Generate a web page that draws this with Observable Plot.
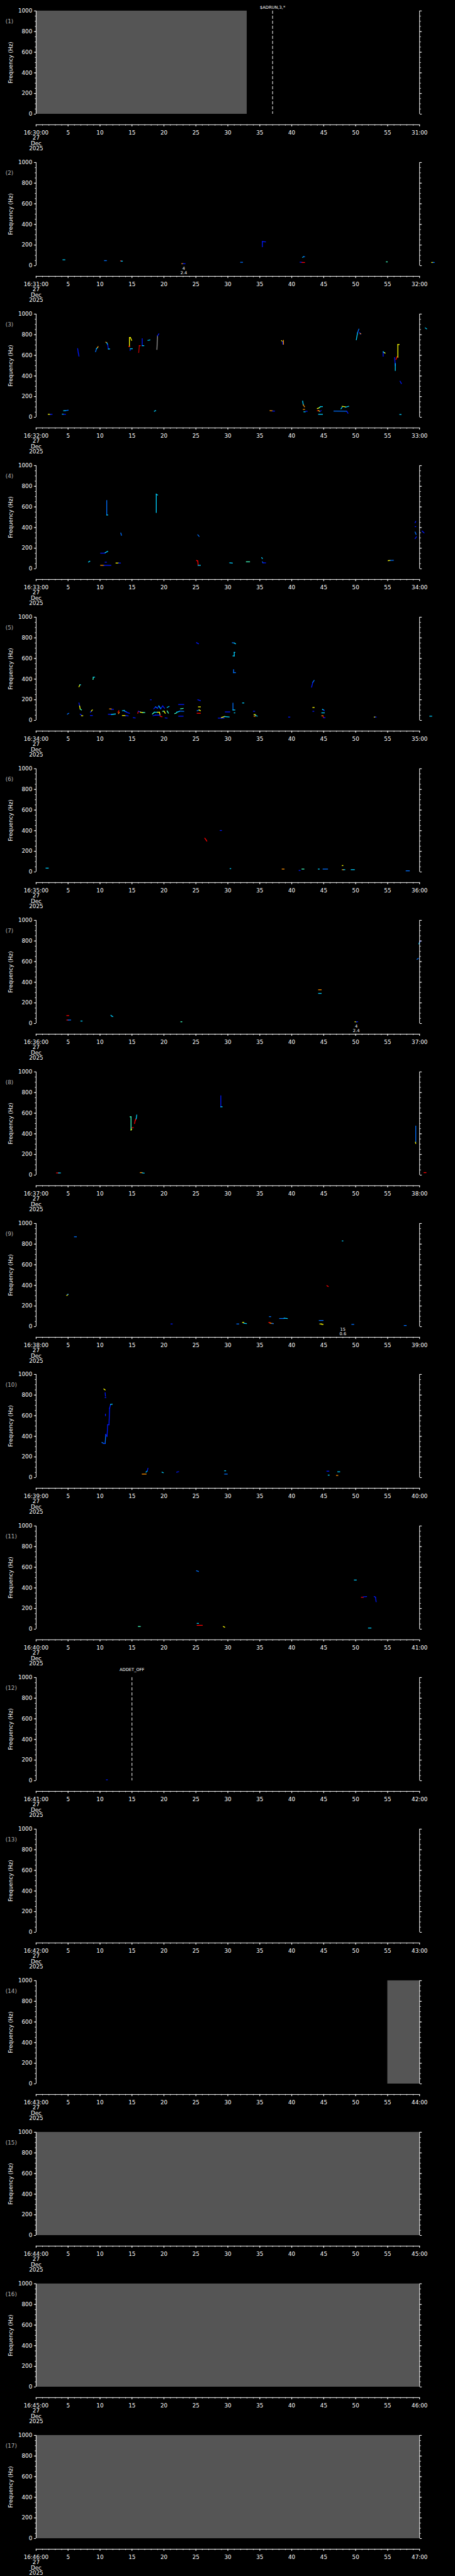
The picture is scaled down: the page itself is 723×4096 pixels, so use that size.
<!DOCTYPE html>
<html><head><meta charset="utf-8">
<script src="https://cdn.jsdelivr.net/npm/d3@7"></script>
<script src="https://cdn.jsdelivr.net/npm/@observablehq/plot@0.6"></script>
<style>
html,body{margin:0;padding:0;background:#000;}
#charts{width:722px;}
#charts > div{line-height:0;}
</style></head><body><div id="charts"></div><script>
// ---------------- data ----------------
const startLabels = ["16:30:00","16:31:00","16:32:00","16:33:00","16:34:00","16:35:00","16:36:00","16:37:00","16:38:00","16:39:00","16:40:00","16:41:00","16:42:00","16:43:00","16:44:00","16:45:00","16:46:00"];
const endLabels = ["31:00","32:00","33:00","34:00","35:00","36:00","37:00","38:00","39:00","40:00","41:00","42:00","43:00","44:00","45:00","46:00","47:00"];
const dateLines = ["27","Dec","2025"];
const secMajor = [0,5,10,15,20,25,30,35,40,45,50,55,60];
const freqMajor = [0,200,400,600,800,1000];
// no-data (grey) spans: [panel, t0, t1]
const gaps = [[1,0,33],[14,55,60],[15,0,60],[16,0,60],[17,0,60]];
// command markers: [panel, t, text]
const commands = [[1,37,"$ADRUN,3,*"],[12,15,"ADDET_OFF"]];
// numeric notes under the spectrum: [panel, t, line1, line2]
const notes = [[2,23.1,"4","2.4"],[7,50.1,"4","2.4"],[9,48,"15","0.6"]];
// traces: [t0, f0, t1, f1, level]
const trace1 = [];
const trace2 = [
[4.2,57,4.5,57,"c"],[10.7,49,11.0,49,"l"],[13.2,47,13.3,47,"r"],[13.3,44,13.5,44,"c"],
[22.8,19,23.0,19,"o"],[23.0,19,23.3,19,"b"],[32.0,33,32.3,33,"l"],
[35.4,183,35.4,233,"b"],[35.4,233,35.9,231,"b"],
[41.7,81,41.85,87,"c"],[41.85,87,42.0,87,"l"],[41.3,34,41.6,33,"b"],[41.6,31,42.0,31,"r"],
[54.8,37,54.95,37,"g"],[61.9,31,62.1,31,"y"],[62.1,31,62.3,31,"l"]];
const trace3 = [
[1.9,29,2.2,29,"y"],[2.2,29,2.5,29,"b"],[4.1,30,4.3,30,"c"],[4.3,29,4.6,29,"b"],
[4.3,63,4.6,65,"c"],[4.6,65,5.0,68,"l"],[6.5,665,6.6,625,"b"],[6.6,625,6.7,592,"b"],
[9.3,635,9.45,665,"l"],[9.45,665,9.6,675,"c"],[9.6,675,9.7,684,"o"],
[10.9,728,11.05,722,"o"],[11.05,722,11.2,705,"c"],[11.2,705,11.3,662,"b"],[11.3,662,11.5,662,"c"],
[14.6,685,14.6,773,"y"],[14.5,687,14.65,687,"r"],[14.6,773,14.75,773,"y"],[14.75,773,14.95,745,"y"],
[14.7,647,14.75,664,"b"],[14.75,664,15.05,664,"c"],
[16.05,628,16.15,694,"m"],[16.15,694,16.3,694,"r"],
[16.6,761,16.6,694,"b"],[16.6,694,16.85,694,"c"],[17.5,745,17.8,750,"c"],[18.5,58,18.7,64,"c"],
[18.9,657,19.0,790,"w"],[19.0,790,19.2,808,"b"],
[36.6,64,37.0,62,"o"],[37.0,60,37.3,60,"b"],
[38.4,742,38.55,735,"y"],[38.55,735,38.6,708,"b"],[38.7,745,38.7,708,"o"],
[41.7,157,41.8,120,"c"],[41.8,120,42.0,101,"o"],[41.8,76,42.0,76,"o"],[41.9,53,42.1,53,"c"],[42.2,58,42.4,58,"b"],
[44.0,84,44.3,92,"y"],[44.3,92,44.5,103,"g"],[44.5,103,44.8,103,"c"],
[44.0,64,44.2,64,"r"],[44.2,64,44.4,55,"y"],[44.4,55,44.6,64,"b"],[44.2,29,44.8,29,"c"],
[46.6,60,48.6,58,"l"],[48.6,58,48.8,39,"b"],
[47.7,81,47.9,100,"c"],[47.9,106,48.4,100,"y"],[48.4,97,48.9,106,"c"],
[50.1,751,50.3,820,"c"],[50.3,820,50.5,854,"l"],[50.6,822,50.8,806,"b"],[50.7,810,50.8,810,"o"],
[54.3,592,54.3,635,"b"],[54.3,635,54.5,625,"c"],[54.5,625,54.6,622,"y"],
[56.1,579,56.2,500,"b"],[56.2,520,56.2,453,"c"],[56.3,561,56.5,589,"r"],
[56.6,582,56.6,705,"y"],[56.6,705,56.8,705,"y"],[56.95,349,57.15,327,"b"],[56.9,27,57.1,27,"c"],
[60.9,866,61.1,857,"c"]];
const trace4 = [
[8.2,66,8.4,73,"c"],[10.1,34,10.6,34,"o"],[10.6,34,11.7,34,"b"],
[10.1,152,10.8,152,"b"],[10.8,156,11.2,169,"c"],[10.8,64,11.0,64,"b"],
[11.05,662,11.05,522,"l"],[11.05,522,11.2,522,"c"],[12.5,56,12.9,56,"y"],[12.9,56,13.2,56,"b"],
[13.25,347,13.35,325,"l"],[18.8,546,18.8,724,"c"],[18.8,724,19.0,715,"c"],
[25.1,81,25.3,75,"r"],[25.3,75,25.35,34,"r"],[25.35,34,25.7,34,"c"],[25.3,330,25.5,315,"l"],
[30.3,58,30.7,56,"c"],[32.9,68,33.4,68,"g"],
[35.3,109,35.4,100,"c"],[35.4,68,35.5,58,"l"],[35.5,58,35.9,58,"b"],
[55.1,79,55.4,81,"y"],[55.4,81,55.9,83,"l"],
[59.3,447,59.4,460,"b"],[59.3,409,59.4,409,"b"],[59.3,356,59.45,334,"l"],[59.3,293,59.5,310,"b"],
[60.4,366,60.7,349,"b"]];
const trace5 = [
[4.9,60,5.1,69,"l"],[6.7,326,6.85,345,"y"],[6.85,345,6.95,345,"c"],
[6.7,169,6.8,140,"b"],[6.8,140,6.9,110,"y"],[6.9,110,7.1,101,"g"],[6.9,60,7.1,50,"b"],[7.1,45,7.3,45,"y"],
[8.5,79,8.65,90,"b"],[8.65,90,8.8,101,"y"],[8.5,47,8.8,47,"b"],[8.9,397,8.95,419,"g"],[8.95,419,9.15,419,"c"],
[11.5,112,11.8,110,"o"],[11.8,107,12.1,107,"b"],[11.3,60,11.8,58,"b"],[11.8,58,12.4,62,"c"],
[12.8,79,12.95,94,"r"],[12.9,66,13.0,79,"o"],
[13.5,94,13.8,97,"c"],[13.8,90,14.1,84,"l"],[14.1,80,14.6,69,"b"],[13.5,47,14.0,47,"y"],[14.0,47,14.4,44,"b"],
[15.2,26,15.5,24,"b"],
[15.9,69,16.0,88,"r"],[16.0,88,16.3,84,"b"],[16.3,80,16.7,76,"y"],[16.7,76,17.0,76,"g"],
[17.9,200,18.0,200,"b"],
[18.4,112,18.7,131,"b"],[18.7,131,19.0,118,"l"],[19.0,118,19.2,140,"b"],[19.2,140,19.5,112,"c"],[19.5,112,19.8,140,"b"],[19.8,140,20.1,118,"b"],[20.5,125,20.8,135,"c"],
[18.2,62,18.5,79,"g"],[18.5,79,19.0,79,"c"],[19.0,79,19.3,79,"y"],[19.3,79,19.4,51,"y"],
[18.3,45,18.7,51,"b"],[18.7,51,19.4,51,"b"],[19.4,40,19.7,35,"r"],
[19.8,88,20.0,90,"g"],[20.0,90,20.2,70,"y"],[20.5,92,20.7,70,"g"],[20.2,24,20.5,22,"b"],
[21.7,66,22.0,73,"g"],[22.0,80,22.4,86,"c"],[22.4,90,23.1,88,"l"],[22.6,112,23.0,116,"g"],
[22.3,154,23.1,154,"b"],[22.3,41,23.0,41,"b"],
[25.3,200,25.7,191,"b"],[25.4,131,25.7,131,"y"],[25.2,94,25.5,101,"l"],[25.5,101,25.7,94,"y"],[25.2,69,25.7,69,"r"],
[25.1,753,25.4,743,"b"],
[28.5,22,29.4,22,"b"],[29.0,28,29.5,37,"y"],[29.5,37,30.2,33,"c"],[29.6,82,30.3,82,"b"],
[30.7,753,31.0,750,"l"],[31.0,750,31.2,743,"c"],
[30.8,625,31.0,625,"c"],[31.0,625,31.0,659,"c"],[31.0,659,31.1,659,"c"],
[30.9,491,30.9,463,"l"],[30.9,463,31.2,463,"l"],[30.8,167,30.8,101,"l"],[30.8,101,31.1,101,"c"],[31.0,73,31.1,73,"c"],
[32.3,169,32.5,169,"c"],[34.0,88,34.2,88,"b"],[34.1,56,34.3,56,"y"],[34.3,50,34.6,41,"c"],[34.1,41,34.3,41,"o"],
[39.5,32,39.7,32,"b"],[43.1,322,43.3,370,"b"],[43.3,370,43.5,388,"l"],[43.3,125,43.5,125,"y"],[43.3,88,43.45,88,"b"],
[44.8,107,45.0,100,"c"],[45.0,100,45.1,94,"b"],[44.7,73,45.1,73,"c"],
[44.7,45,44.9,45,"o"],[44.9,40,45.0,26,"r"],[45.0,26,45.2,26,"b"],
[52.9,32,53.05,32,"y"],[53.05,32,53.2,32,"b"],[61.6,41,61.9,41,"c"]];
const trace6 = [
[1.55,37,1.9,37,"c"],[26.4,327,26.6,310,"r"],[26.6,310,26.7,299,"r"],[28.8,402,29.0,402,"b"],
[30.35,32,30.45,32,"c"],[38.5,28,38.8,28,"o"],[41.15,15,41.3,15,"b"],[41.6,28,41.9,28,"g"],
[44.15,28,44.3,28,"c"],[44.9,28,45.6,28,"l"],[47.9,62,48.0,62,"y"],
[47.9,22,48.1,22,"o"],[48.1,22,48.3,22,"c"],[49.3,22,49.8,22,"c"],[57.9,11,58.4,11,"l"]];
const trace7 = [
[4.8,77,5.1,77,"r"],[4.8,34,5.0,34,"r"],[5.0,34,5.4,34,"l"],[7.0,24,7.2,24,"c"],
[11.7,80,11.8,74,"c"],[11.8,72,12.0,67,"c"],[22.65,17,22.8,17,"g"],
[44.2,327,44.6,327,"o"],[44.2,292,44.6,292,"c"],[49.9,17,50.1,17,"y"],[50.1,17,50.3,17,"b"],
[59.6,622,59.8,632,"l"],[59.9,772,60.0,790,"c"],[60.0,790,60.2,800,"b"]];
const trace8 = [
[3.2,21,3.5,21,"r"],[3.5,21,3.8,21,"c"],
[14.85,565,14.85,437,"g"],[14.7,565,14.85,565,"g"],[14.85,437,14.95,445,"y"],[15.0,460,15.2,460,"r"],
[15.4,499,15.5,530,"r"],[15.5,530,15.6,544,"r"],[15.65,544,15.75,582,"c"],
[16.3,24,16.6,24,"o"],[16.6,21,16.9,19,"c"],
[28.9,769,28.9,662,"b"],[28.9,662,29.1,662,"c"],
[59.4,475,59.4,318,"l"],[59.35,318,59.4,306,"y"],[60.7,24,61.0,24,"r"]];
const trace9 = [
[4.8,303,5.0,313,"y"],[4.9,313,5.0,313,"l"],[6.0,871,6.3,871,"l"],[21.1,26,21.3,26,"b"],
[31.4,26,31.7,26,"l"],[32.3,41,32.5,41,"y"],[32.5,32,32.9,30,"c"],
[36.4,41,36.6,41,"r"],[36.6,34,37.1,30,"o"],[36.9,30,37.1,30,"l"],[36.5,97,36.7,97,"l"],
[38.1,79,38.8,79,"l"],[38.8,82,39.3,79,"c"],[44.3,60,44.9,60,"l"],
[44.4,26,44.7,26,"y"],[44.7,22,44.9,22,"y"],[45.5,397,45.7,390,"r"],
[47.9,831,48.0,831,"c"],[49.4,22,49.7,22,"l"],[57.6,11,57.9,11,"l"]];
const trace10 = [
[10.3,340,10.6,330,"l"],[10.6,859,10.8,850,"y"],[10.8,822,10.85,790,"b"],[10.8,775,10.9,775,"b"],
[10.85,615,10.85,600,"b"],
[10.6,330,10.8,330,"b"],[10.8,330,10.9,418,"l"],[10.9,418,11.1,400,"b"],[11.1,400,11.2,512,"b"],
[11.2,512,11.4,512,"b"],[11.4,512,11.5,672,"b"],[11.5,672,11.65,709,"b"],[11.65,709,11.9,712,"c"],
[16.6,34,17.2,34,"o"],[17.2,53,17.4,65,"c"],[17.4,65,17.5,90,"b"],
[19.7,52,19.9,47,"c"],[22.0,52,22.3,58,"b"],[29.5,66,29.65,66,"c"],[29.5,34,29.9,34,"l"],
[45.5,62,45.8,62,"b"],[45.7,24,45.85,24,"c"],[47.0,21,47.2,21,"o"],[47.2,56,47.5,56,"c"]];
const trace11 = [
[16.0,26,16.3,26,"g"],[25.1,566,25.4,560,"l"],[25.2,56,25.4,56,"c"],[25.2,37,26.0,37,"r"],
[29.3,26,29.5,19,"y"],[49.8,476,50.1,476,"c"],[50.9,309,51.2,309,"r"],[51.2,313,51.7,316,"b"],
[52.9,316,53.1,310,"b"],[53.1,310,53.2,266,"b"],[52.0,11,52.4,11,"c"]];
const trace12 = [[11.0,9,11.15,9,"b"]];
const trace13 = [], trace14 = [], trace15 = [], trace16 = [], trace17 = [];
const traces = [trace1,trace2,trace3,trace4,trace5,trace6,trace7,trace8,trace9,trace10,trace11,trace12,trace13,trace14,trace15,trace16,trace17];

// ---------------- drawing ----------------
const jet = {b:"#0018ff", l:"#0070ff", c:"#00d0ff", g:"#40ffc0", y:"#ffff00", o:"#ff9000", r:"#ff0000", m:"#c00000", w:"#9a9a9a"};
const S = 0.705;
const W = 722;
const H = 4096 / 17;
const mL = 80.7 * S, mR = W - 945 * S, mT = 24 * S, mB = H - 256.7 * S;
const axisGap = 24 * S;
const FS = 8.8;

function panel(i) {
  const tr = traces[i - 1];
  const cmd = commands.filter(d => d[0] === i);
  const gp = gaps.filter(d => d[0] === i);
  const nt = notes.filter(d => d[0] === i);
  const fmtX = d => d === 0 ? [startLabels[i - 1], ...dateLines].join("\n") : d === 60 ? endLabels[i - 1] : String(d);
  return Plot.plot({
    width: W, height: H,
    marginLeft: mL, marginRight: mR, marginTop: mT, marginBottom: mB,
    x: {domain: [0, 60]},
    y: {domain: [0, 1000]},
    color: {type: "identity"},
    style: {background: "#000", color: "#fff", fontFamily: "DejaVu Sans", fontSize: FS + "px"},
    marks: [
      Plot.rect(gp, {x1: d => d[1], x2: d => d[2], fill: "#555555"}),
      Plot.link(tr, {x1: d => d[0], y1: d => d[1], x2: d => d[2], y2: d => d[3], stroke: d => jet[d[4]], strokeWidth: 1.3, strokeLinecap: "square"}),
      Plot.ruleX(cmd, {x: d => d[1], stroke: "#fff", strokeWidth: 1, strokeDasharray: "5,3"}),
      Plot.text(cmd, {x: d => d[1], frameAnchor: "top", text: d => d[2], lineAnchor: "bottom", dy: i === 1 ? -3.5 : -10.4, fill: "#fff", fontSize: 6.7}),
      Plot.text(nt, {x: d => d[1], frameAnchor: "bottom", text: d => d[2] + "\n" + d[3], lineAnchor: "top", dy: 1.6, lineHeight: 1.05, fill: "#fff", fontSize: 6.7}),
      // frame side lines
      Plot.ruleX([0, 60], {stroke: "#fff", strokeWidth: 1}),
      // y axes
      Plot.axisY({anchor: "left", ticks: freqMajor, tickSize: 3, tickPadding: 3.1, tickFormat: d => String(d), label: null, stroke: "#fff"}),
      Plot.axisY({anchor: "left", ticks: d3.range(0, 1001, 50), tickSize: 1.5, tickFormat: () => "", label: null, stroke: "#fff"}),
      Plot.axisY({anchor: "right", ticks: freqMajor, tickSize: 3, tickFormat: () => "", label: null, stroke: "#fff"}),
      Plot.axisY({anchor: "right", ticks: d3.range(0, 1001, 50), tickSize: 1.5, tickFormat: () => "", label: null, stroke: "#fff"}),
      // x axis (detached below the frame)
      Plot.ruleY([0], {dy: axisGap, stroke: "#fff", strokeWidth: 1}),
      Plot.axisX({anchor: "bottom", ticks: secMajor, tickSize: 3.2, tickPadding: 6.2, dy: axisGap, tickFormat: fmtX, lineHeight: 0.97, label: null, stroke: "#fff"}),
      Plot.axisX({anchor: "bottom", ticks: d3.range(0, 61, 1), tickSize: 1.7, dy: axisGap, tickFormat: () => "", label: null, stroke: "#fff"}),
      // labels
      Plot.text([`(${i})`], {frameAnchor: "top-left", text: d => d, dx: 8.3 - mL, dy: 16.7, textAnchor: "start", lineAnchor: "middle", fill: "#b4b4b4", fontSize: FS}),
      Plot.text(["Frequency (Hz)"], {frameAnchor: "left", text: d => d, dx: 16.6 - mL, rotate: -90, textAnchor: "middle", lineAnchor: "middle", fill: "#fff", fontSize: FS})
    ]
  });
}

const root = document.getElementById("charts");
for (let i = 1; i <= 17; i++) {
  const div = document.createElement("div");
  div.appendChild(panel(i));
  root.appendChild(div);
}
</script></body></html>
